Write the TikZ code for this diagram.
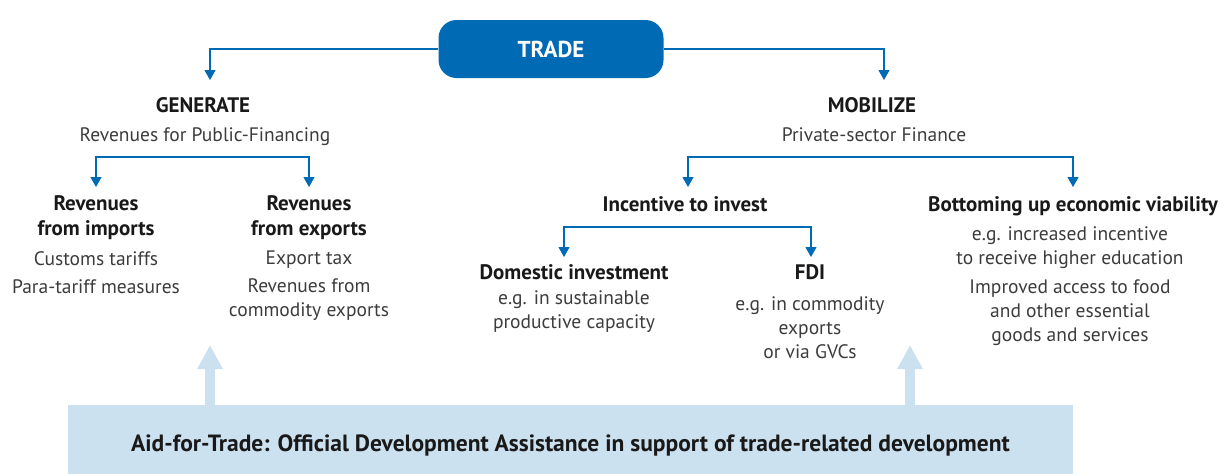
\documentclass[tikz,border=0pt]{standalone}
\usepackage{fontspec}
\setmainfont{PT Sans}
\usetikzlibrary{arrows.meta}
\definecolor{tradeblue}{RGB}{0,106,180}
\definecolor{aidblue}{RGB}{204,225,240}
\definecolor{txtgray}{RGB}{60,60,60}
\tikzset{
  conn/.style={draw=tradeblue, line width=1.1pt, -{Triangle[width=11pt,length=10pt]}},
  head/.style={font=\fontsize{21}{25}\selectfont\bfseries, text=black!90, align=center, inner sep=0pt, anchor=north},
  desc/.style={font=\fontsize{19.5}{24}\selectfont, text=txtgray, align=center, inner sep=0pt, anchor=north},
  aidarrow/.style={draw=aidblue, line width=10pt, -{Triangle[width=24pt,length=24pt]}}
}

\begin{document}
\begin{tikzpicture}[x=1pt,y=-1pt]
  \useasboundingbox (0,0) rectangle (1226,474);
  % Trade box
  \node[fill=tradeblue, rounded corners=18pt, minimum width=225pt, minimum height=58pt,
    text=white, font=\fontsize{23}{25}\selectfont\bfseries] (trade) at (551,49) {TRADE};

  % Generate side
  \node[head] (gen) at (203,97) {GENERATE};
  \node[desc] (pubfin) at (205,127) {Revenues for Public-Financing};
  \node[head] (imp) at (96,195) {Revenues\\from imports};
  \node[desc] (impdesc) at (96,251) {Customs tariffs\\[4pt]Para-tariff measures};
  \node[head] (exp) at (309,195) {Revenues\\from exports};
  \node[desc] (expdesc) at (309,251) {Export tax\\[4pt]Revenues from\\commodity exports};

  % Mobilize side
  \node[head] (mob) at (872,97) {MOBILIZE};
  \node[desc] (privfin) at (874,127) {Private-sector Finance};
  \node[head] (inc) at (685,196) {Incentive to invest};
  \node[head] (bot) at (1073,196) {Bottoming up economic viability};
  \node[desc] (botdesc) at (1070,226) {e.g. increased incentive\\to receive higher education\\[5pt]Improved access to food\\and other essential\\goods and services};
  \node[head] (dom) at (574,264) {Domestic investment};
  \node[desc] (domdesc) at (574,290) {e.g. in sustainable\\productive capacity};
  \node[head] (fdi) at (810,264) {FDI};
  \node[desc] (fdidesc) at (810,296) {e.g. in commodity\\exports\\or via GVCs};

  % Aid for trade
  \node[fill=aidblue, minimum width=1005pt, minimum height=69pt, inner sep=0pt,
    text height=24pt, text depth=0pt, text=black!90,
    font=\fontsize{23.5}{25}\selectfont\bfseries] (aid) at (570.5,439.5)
    {Aid-for-Trade: Official Development Assistance in support of trade-related development};
  \coordinate (lup) at (210,345);
  \coordinate (rup) at (910,345);
  \draw[aidarrow] (aid.north -| lup) -- (lup);
  \draw[aidarrow] (aid.north -| rup) -- (rup);

  % Connectors
  \draw[conn] (trade.west) -| ([xshift=7pt,yshift=17pt]gen.north);
  \draw[conn] (trade.east) -| ([xshift=12pt,yshift=17pt]mob.north);
  \coordinate (genbar) at (203,157);
  \draw[conn] (genbar) -| ([yshift=8pt]imp.north);
  \draw[conn] (genbar) -| ([yshift=8pt]exp.north);
  \coordinate (mobbar) at (880,157);
  \draw[conn] (mobbar) -| ([xshift=3pt,yshift=9pt]inc.north);
  \draw[conn] (mobbar) -| ([yshift=9pt]bot.north);
  \coordinate (incbar) at (688,227);
  \draw[conn] (incbar) -| ([xshift=-10pt,yshift=7pt]dom.north);
  \draw[conn] (incbar) -| ([xshift=1pt,yshift=7pt]fdi.north);
\end{tikzpicture}
\end{document}
